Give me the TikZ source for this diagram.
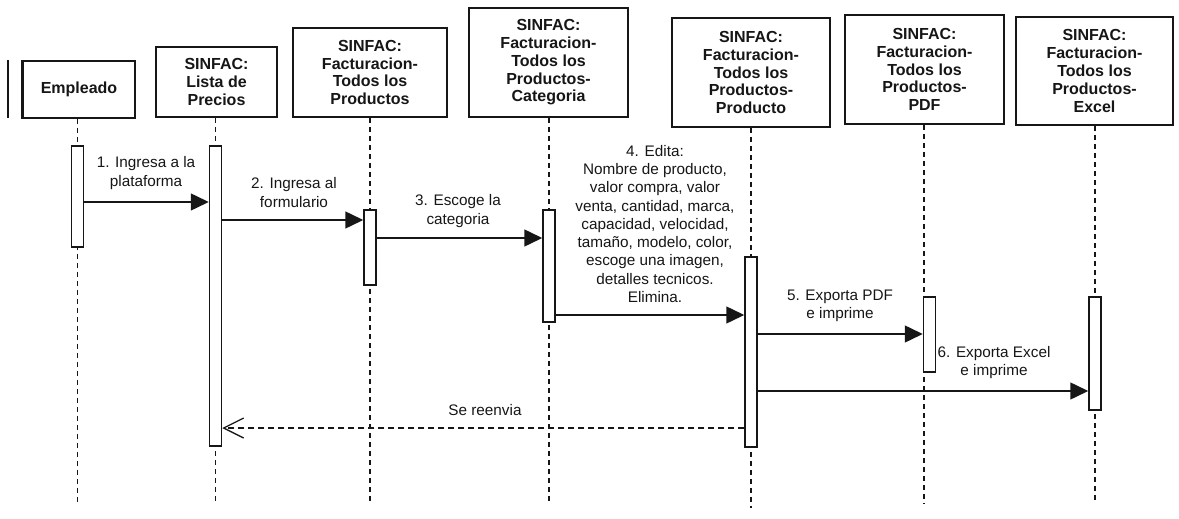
\documentclass[tikz,border=0pt]{standalone}
\usepackage{fontspec}
\setmainfont{Liberation Sans}
\usetikzlibrary{arrows.meta}
\definecolor{ink}{HTML}{161616}
\begin{document}
\begin{tikzpicture}[x=1pt,y=-1pt,
  obj/.style={draw=ink, line width=1.6pt, fill=white, inner sep=0pt, align=center,
    text=ink, font=\bfseries\fontsize{16}{17.8}\selectfont},
  bar/.style={draw=ink, line width=1.5pt, fill=white, inner sep=0pt, minimum width=12pt},
  life/.style={draw=ink, line width=1.7pt, dash pattern=on 5pt off 4pt},
  msg/.style={draw=ink, line width=1.5pt, -{Triangle[length=18pt,width=17pt]}},
  ret/.style={draw=ink, line width=1.4pt, dash pattern=on 6pt off 4pt,
    -{Straight Barb[length=20pt,width=20pt,line width=1.3pt]}},
  lbl/.style={inner sep=0pt, align=center, text=ink, font=\fontsize{15.3}{18.5}\selectfont}]
\useasboundingbox (0,0) rectangle (1179,519);

% object boxes
\node[obj, minimum width=112pt, minimum height=57pt] (emp) at (79,89.5) {Empleado};
\node[obj, minimum width=121pt, minimum height=70pt] (lista) at (216.5,82) {SINFAC:\\Lista de\\Precios};
\node[obj, minimum width=154pt, minimum height=89pt] (todos) at (370,72.5) {SINFAC:\\Facturacion-\\Todos los\\Productos};
\node[obj, minimum width=159pt, minimum height=109pt] (cat) at (548.5,62.5) {SINFAC:\\Facturacion-\\Todos los\\Productos-\\Categoria};
\node[obj, minimum width=158pt, minimum height=109pt] (prod) at (751,72.5) {SINFAC:\\Facturacion-\\Todos los\\Productos-\\Producto};
\node[obj, minimum width=159pt, minimum height=109pt] (pdf) at (924.5,69.5) {SINFAC:\\Facturacion-\\Todos los\\Productos-\\PDF};
\node[obj, minimum width=157pt, minimum height=108pt] (xls) at (1094.5,71) {SINFAC:\\Facturacion-\\Todos los\\Productos-\\Excel};

% heavy left edge of the actor box and the mark beside it
\draw[ink, line width=3pt] (emp.north west) -- (emp.south west);
\draw[ink, line width=2pt] (8,60) -- (8,118);

% lifeline ends
\coordinate (empE) at (77.5,503);
\coordinate (listaE) at (215.5,503);
\coordinate (todosE) at (370,503);
\coordinate (catE) at (549,503);
\coordinate (prodE) at (751,508);
\coordinate (pdfE) at (924,503);
\coordinate (xlsE) at (1095,503);

% lifelines
\draw[life] (emp.south -| empE) -- (empE);
\draw[life] (lista.south -| listaE) -- (listaE);
\draw[life] (todos.south -| todosE) -- (todosE);
\draw[life] (cat.south -| catE) -- (catE);
\draw[life] (prod.south -| prodE) -- (prodE);
\draw[life] (pdf.south -| pdfE) -- (pdfE);
\draw[life] (xls.south -| xlsE) -- (xlsE);

% activation bars
\node[bar, minimum height=101pt] (aemp) at (77.5,196.5) {};
\node[bar, minimum height=300pt] (alista) at (215.5,296) {};
\node[bar, minimum height=75pt] (atodos) at (370,247.5) {};
\node[bar, minimum height=112pt] (acat) at (549,266) {};
\node[bar, minimum height=190pt] (aprod) at (751,352) {};
\node[bar, minimum height=75pt] (apdf) at (929.5,334.5) {};
\node[bar, minimum height=113pt] (axls) at (1095,353.5) {};

% messages
\draw[msg] (aemp.east |- 0,202) -- (alista.west |- 0,202);
\draw[msg] (alista.east |- 0,220) -- (atodos.west |- 0,220);
\draw[msg] (atodos.east |- 0,238) -- (acat.west |- 0,238);
\draw[msg] (acat.east |- 0,315) -- (aprod.west |- 0,315);
\draw[msg] (aprod.east |- 0,334) -- (apdf.west |- 0,334);
\draw[msg] (aprod.east |- 0,391) -- (axls.west |- 0,391);
\draw[ret] (aprod.west |- 0,428) -- (alista.east |- 0,428);

% message labels
\node[lbl] (m1) at (146,173) {1. Ingresa a la\\plataforma};
\node[lbl] (m2) at (294,192.5) {2. Ingresa al\\formulario};
\node[lbl] (m3) at (458,211) {3. Escoge la\\categoria};
\node[lbl, font=\fontsize{15.3}{18.25}\selectfont] (m4) at (655,224) {4. Edita:\\Nombre de producto,\\valor compra, valor\\venta, cantidad, marca,\\capacidad, velocidad,\\tama\~no, modelo, color,\\escoge una imagen,\\detalles tecnicos.\\Elimina.};
\node[lbl] (m5) at (840,306) {5. Exporta PDF\\e imprime};
\node[lbl] (m6) at (994,362.5) {6. Exporta Excel\\e imprime};
\node[lbl] (m7) at (485,410) {Se reenvia};
\end{tikzpicture}
\end{document}
